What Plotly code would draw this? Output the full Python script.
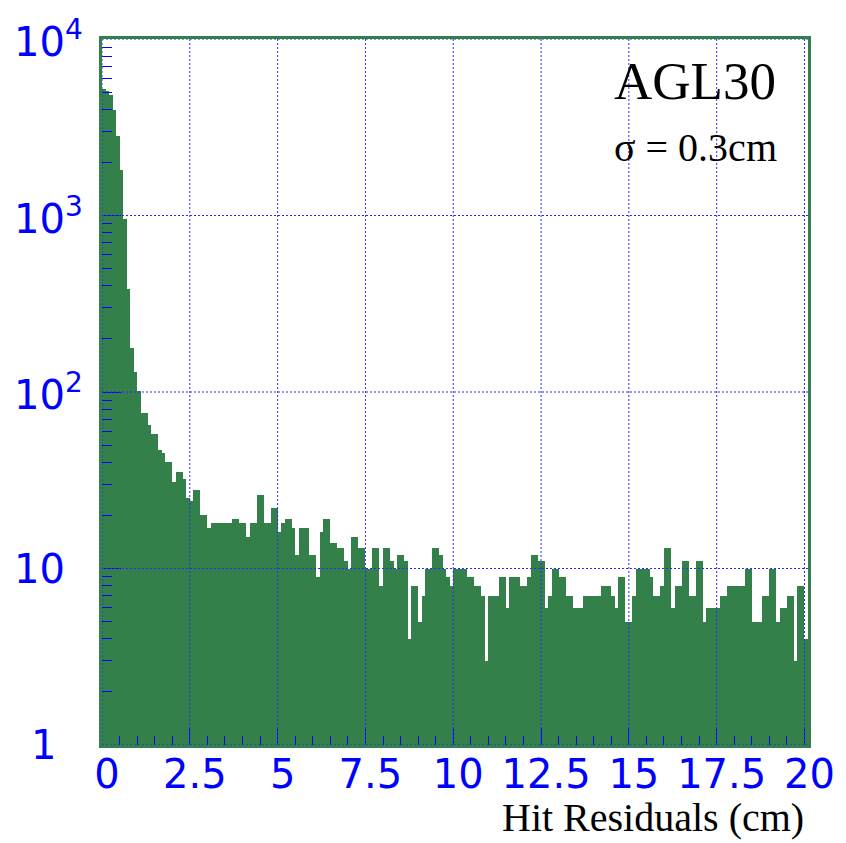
import math
import plotly.graph_objects as go

# ---------------- data ----------------
counts = [
    5200, 5100, 4800, 3950, 2820, 1800, 950, 385, 177, 130,
    101, 76, 76, 65, 58, 58, 47, 45, 40, 40,
    31, 35, 35, 32, 25, 24, 28, 28, 20, 20,
    17, 18, 18, 18, 18, 18, 18, 19, 19, 18,
    18, 15, 18, 18, 26, 26, 18, 18, 22, 22,
    16, 18, 19, 19, 17, 12, 17, 17, 17, 12,
    12, 9, 16, 19, 19, 14, 14, 13, 13, 11,
    10, 15, 15, 13, 13, 10, 10, 13, 13, 8,
    13, 13, 11, 10, 12, 12, 11, 4, 8, 8,
    5, 7, 10, 10, 13, 13, 12, 10, 9, 8,
    10, 10, 10, 10, 9, 9, 8, 8, 7, 3,
    7, 7, 7, 9, 9, 6, 9, 9, 9, 8,
    8, 9, 12, 12, 11, 11, 6, 7, 10, 10,
    9, 9, 7, 7, 6, 6, 6, 7, 7, 7,
    7, 7, 8, 8, 8, 7, 6, 9, 9, 5,
    5, 7, 10, 10, 10, 10, 9, 7, 7, 8,
    13, 13, 6, 8, 8, 11, 11, 7, 7, 11,
    11, 5, 6, 6, 6, 6, 7, 7, 8, 8,
    8, 8, 8, 10, 10, 5, 5, 5, 7, 7,
    10, 10, 5, 6, 6, 7, 7, 3, 8, 8,
    4,
]
bin_width = 0.1
x_start = 0.0

x_tick_vals = [0, 2.5, 5, 7.5, 10, 12.5, 15, 17.5, 20]
x_tick_text = ["0", "2.5", "5", "7.5", "10", "12.5", "15", "17.5", "20"]
y_tick_vals = [1, 10, 100, 1000, 10000]
y_tick_text = ["1", "10", "10<sup>2</sup>", "10<sup>3</sup>", "10<sup>4</sup>"]

x_title = "Hit Residuals (cm)"
label_main = "AGL30"
label_sigma = "σ = 0.3cm"

# ---------------- styles ----------------
GREEN = "#33804b"
BLUE = "#0000ff"
TICK_FONT = dict(family="DejaVu Sans", size=40, color=BLUE)
SERIF = "Liberation Serif"

centers = [x_start + (i + 0.5) * bin_width for i in range(len(counts))]
x_max = x_start + len(counts) * bin_width

fig = go.Figure()
fig.add_trace(go.Bar(
    x=centers, y=counts, width=bin_width,
    marker=dict(color=GREEN, line=dict(width=0)),
    showlegend=False, hoverinfo="x+y",
))

x_minor = [i * 0.5 for i in range(0, 41) if (i * 0.5) not in x_tick_vals]

fig.update_layout(
    width=846, height=843,
    margin=dict(l=102, r=38, t=38.5, b=98),
    paper_bgcolor="white", plot_bgcolor="white",
    bargap=0, showlegend=False,
)

fig.update_xaxes(
    range=[x_start, x_max],
    tickmode="array", tickvals=x_tick_vals, ticktext=x_tick_text,
    ticks="inside", ticklen=17, tickwidth=1, tickcolor=BLUE,
    tickfont=TICK_FONT, ticklabelshift=5, ticklabelstandoff=-8,
    showgrid=False, zeroline=False,
    showline=True, linecolor=GREEN, linewidth=2.5, mirror=True,
    layer="above traces",
    minor=dict(tickmode="array", tickvals=x_minor, ticks="inside",
               ticklen=9, tickwidth=1, tickcolor=BLUE, showgrid=False),
)
fig.update_yaxes(
    type="log", range=[0, 4],
    tickmode="linear", tick0=0, dtick=1, showticklabels=False,
    ticks="inside", ticklen=19, tickwidth=1, tickcolor=BLUE,
    showgrid=False, zeroline=False,
    showline=True, linecolor=GREEN, linewidth=2.5, mirror=True,
    layer="above traces",
    minor=dict(dtick="D1", ticks="inside",
               ticklen=10, tickwidth=1, tickcolor=BLUE, showgrid=False),
)

# dotted grid drawn above the bars
grid_line = dict(color="#2a2aff", width=1, dash="2px,2px")
for v in x_tick_vals:
    fig.add_shape(type="line", xref="x", yref="paper", x0=v, x1=v, y0=0, y1=1,
                  line=grid_line, layer="above")
for v in y_tick_vals:
    fig.add_shape(type="line", xref="paper", yref="y", x0=0, x1=1,
                  y0=v, y1=v, line=grid_line, layer="above")

# y tick labels as annotations (ROOT-like placement)
for v, t in zip(y_tick_vals, y_tick_text):
    if t == "1":
        fig.add_annotation(xref="paper", yref="y", x=0, y=math.log10(v),
                           xanchor="center", yanchor="middle", xshift=-59,
                           text=t, showarrow=False, font=TICK_FONT)
    else:
        fig.add_annotation(xref="paper", yref="y", x=0, y=math.log10(v),
                           xanchor="left", yanchor="middle", xshift=-90,
                           text=t, showarrow=False, font=TICK_FONT)

# x axis title
fig.add_annotation(xref="paper", yref="paper", x=1, y=0, xanchor="right", yanchor="bottom",
                   xshift=-2, yshift=-97, text=x_title, showarrow=False,
                   font=dict(family=SERIF, size=40, color="black"))

# labels
fig.add_annotation(xref="paper", yref="paper", x=1, y=1, xanchor="right", yanchor="middle",
                   xshift=-30, yshift=-42, text=label_main, showarrow=False,
                   font=dict(family=SERIF, size=53, color="black"))
fig.add_annotation(xref="paper", yref="paper", x=1, y=1, xanchor="right", yanchor="middle",
                   xshift=-29, yshift=-108, text=label_sigma, showarrow=False,
                   font=dict(family=SERIF, size=40, color="black"))

fig.write_html("out.html")
